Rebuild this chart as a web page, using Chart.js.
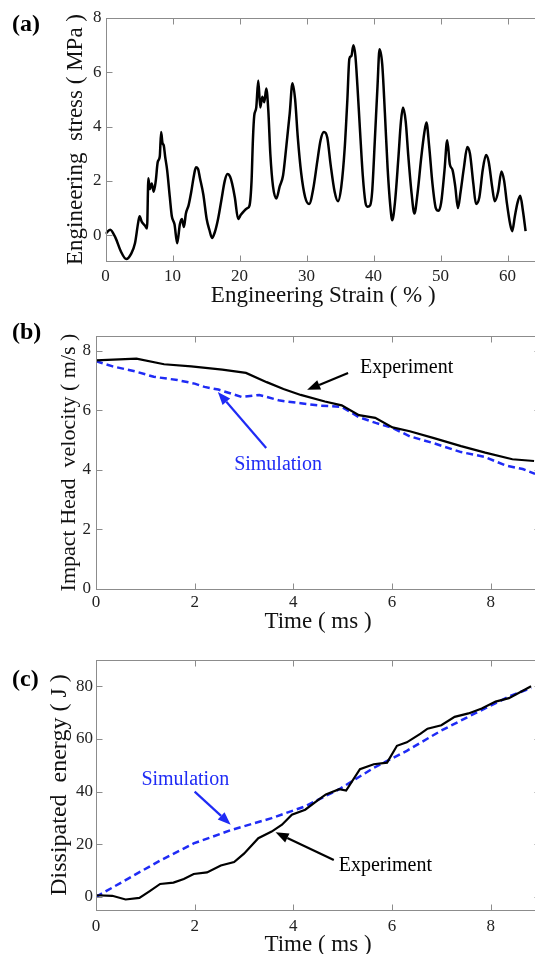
<!DOCTYPE html>
<html>
<head>
<meta charset="utf-8">
<script src="https://cdn.jsdelivr.net/npm/chart.js@4"></script>
<style>
  html, body { margin:0; padding:0; background:#fff; width:535px; height:954px; overflow:hidden; position:relative; }
  canvas { position:absolute; left:0; }
</style>
</head>
<body>
<canvas id="ca" width="560" height="310" style="top:0px"></canvas>
<canvas id="cb" width="560" height="330" style="top:320px"></canvas>
<canvas id="cc" width="560" height="320" style="top:640px"></canvas>
<script>
// ---------- Panel (a): engineering stress vs strain ----------
const strainA = [0,0.7,1.5,2.3,3.1,3.8,4.4,4.9,5.1,5.4,5.9,6.2,6.4,6.6,6.9,7.2,7.5,7.8,8.1,8.3,8.5,8.7,8.9,9.2,9.6,9.9,10.3,10.7,11.1,11.4,11.7,12.0,12.4,12.8,13.2,13.5,13.8,14.1,14.6,15.1,15.5,15.9,16.3,16.8,17.3,17.8,18.2,18.6,18.9,19.3,19.8,20.2,20.7,21.2,21.5,21.8,22.0,22.2,22.5,22.8,23.1,23.4,23.7,24.0,24.3,24.6,25.0,25.5,26.0,26.5,27.0,27.5,27.9,28.3,28.7,29.2,29.8,30.4,31.0,31.6,32.1,32.6,33.1,33.6,34.2,34.7,35.2,35.7,36.1,36.4,36.7,37.0,37.3,37.6,38.0,38.4,38.8,39.1,39.5,39.8,40.2,40.6,40.9,41.3,41.7,42.1,42.5,42.8,43.2,43.7,44.1,44.4,44.8,45.2,45.7,46.1,46.6,47.1,47.6,47.9,48.3,48.8,49.3,49.7,50.1,50.6,51.0,51.4,51.8,52.2,52.6,53.0,53.5,54.0,54.4,54.9,55.3,55.8,56.3,56.8,57.2,57.7,58.1,58.6,59.1,59.5,59.9,60.4,60.7,61.1,61.5,61.9,62.3,62.7];
const stressA = [0.05,0.2,-0.1,-0.6,-0.88,-0.7,-0.3,0.5,0.7,0.5,0.35,0.25,2.1,1.7,1.9,1.6,2.0,2.7,2.9,3.8,3.4,3.3,2.9,2.4,1.4,0.7,0.4,-0.3,0.4,0.6,0.3,0.8,1.1,1.6,2.2,2.5,2.45,2.1,1.5,0.6,0.2,-0.1,0.1,0.6,1.3,2.0,2.25,2.15,1.9,1.4,0.6,0.75,0.9,1.0,1.1,2.0,3.5,4.4,4.7,5.7,4.7,5.1,4.9,5.4,4.6,3.0,1.8,1.35,1.8,2.2,3.3,4.5,5.6,5.0,3.6,2.3,1.4,1.15,1.7,2.7,3.5,3.8,3.6,2.6,1.6,1.25,1.8,3.2,5.0,6.5,6.6,7.0,6.6,5.5,3.8,2.2,1.2,1.05,1.1,1.6,3.5,5.5,6.85,6.3,4.5,2.5,1.1,0.55,1.2,2.8,4.2,4.7,4.2,2.9,1.5,0.8,1.6,2.8,3.8,4.15,3.3,1.9,1.0,0.9,1.2,2.4,3.5,2.6,2.4,1.8,1.0,1.6,2.5,3.25,3.0,1.9,1.15,1.4,2.4,2.95,2.7,1.8,1.25,1.6,2.35,2.0,1.2,0.4,0.15,0.7,1.2,1.45,0.9,0.15];
const xTicksA = [0,10,20,30,40,50,60];
const yTicksA = [0,2,4,6,8];

// ---------- Panel (b): impact head velocity vs time ----------
const timeBExp = [0,0.82,1.38,1.93,2.56,3.04,3.46,3.8,4.15,4.64,4.98,5.33,5.66,6.01,6.36,6.85,7.4,7.89,8.44,8.88];
const velBExp  = [7.68,7.74,7.55,7.48,7.37,7.26,6.95,6.72,6.52,6.3,6.17,5.84,5.75,5.43,5.3,5.07,4.8,4.58,4.36,4.3];
const timeBSim = [0,0.34,0.82,1.17,1.65,2.0,2.2,2.48,2.96,3.31,3.73,4.15,4.56,4.98,5.32,5.67,6.01,6.36,6.84,7.4,7.88,8.3,8.65,8.9];
const velBSim  = [7.65,7.48,7.3,7.13,7.02,6.9,6.79,6.7,6.45,6.52,6.33,6.24,6.16,6.12,5.78,5.58,5.41,5.13,4.9,4.6,4.44,4.15,4.03,3.87];
const xTicksB = [0,2,4,6,8];
const yTicksB = [0,2,4,6,8];

// ---------- Panel (c): dissipated energy vs time ----------
const timeCExp = [0,0.33,0.6,0.88,1.09,1.3,1.57,1.78,1.98,2.25,2.53,2.8,3.0,3.29,3.56,3.77,3.97,4.24,4.52,4.66,4.93,5.07,5.35,5.63,5.9,6.1,6.3,6.58,6.72,7.0,7.27,7.55,7.82,8.1,8.37,8.82];
const energyCExp = [0.6,0.4,-1,-0.4,2.2,4.9,5.4,6.8,8.7,9.3,11.9,13.2,16.4,22.3,24.8,27.4,31.2,33.1,37,38.9,40.9,40.4,48.5,50.4,51,57.4,58.7,62,63.9,65.2,68.4,69.7,71.6,74.2,75.5,80];
const timeCSim = [0,1.3,1.98,2.74,3.56,4.24,4.93,5.63,6.3,7.0,7.68,8.37,8.82];
const energyCSim = [0,13.8,20.3,25.4,29.9,34.4,40.9,49,55.5,63.2,69.7,76.1,79.4];
const xTicksC = [0,2,4,6,8];
const yTicksC = [0,20,40,60,80];

// ---------- styling ----------
const SERIF = "'Liberation Serif', 'Times New Roman', serif";
const BLUE = '#1f2bf5';
const AXIS = '#8c8c8c';

function pts(xs, ys) { return xs.map((v, i) => ({x: v, y: ys[i]})); }

const framePlugin = {
  id: 'frame',
  afterDraw(chart, args, opts) {
    const {ctx, chartArea: a, scales: {x, y}} = chart;
    ctx.save();
    ctx.strokeStyle = AXIS; ctx.lineWidth = 1;
    const L = 6;
    const line = (x1, y1, x2, y2) => { ctx.beginPath(); ctx.moveTo(x1, y1); ctx.lineTo(x2, y2); ctx.stroke(); };
    const l = Math.round(a.left) + 0.5, r = Math.round(a.right) + 0.5, t = Math.round(a.top) + 0.5, b = Math.round(a.bottom) + 0.5;
    ctx.strokeRect(l, t, r - l, b - t);
    x.ticks.forEach(tk => { const p = Math.round(x.getPixelForValue(tk.value)) + 0.5; line(p, b, p, b - L); line(p, t, p, t + L); });
    y.ticks.forEach(tk => { const p = Math.round(y.getPixelForValue(tk.value)) + 0.5; line(l, p, l + L, p); line(r, p, r - L, p); });
    if (opts.letter) {
      ctx.fillStyle = '#000';
      ctx.font = "bold 24px " + SERIF;
      ctx.textBaseline = 'middle'; ctx.textAlign = 'left';
      ctx.fillText(opts.letter, opts.letterX, opts.letterY);
    }
    (opts.notes || []).forEach(n => {
      ctx.fillStyle = n.color; ctx.font = "20px " + SERIF;
      ctx.textBaseline = 'middle'; ctx.textAlign = 'left';
      ctx.fillText(n.text, x.getPixelForValue(n.x), y.getPixelForValue(n.y));
    });
    (opts.arrows || []).forEach(ar => {
      const x1 = x.getPixelForValue(ar.from[0]), y1 = y.getPixelForValue(ar.from[1]);
      const x2 = x.getPixelForValue(ar.to[0]), y2 = y.getPixelForValue(ar.to[1]);
      const ang = Math.atan2(y2 - y1, x2 - x1), H = 13, W = 5;
      ctx.strokeStyle = ar.color; ctx.fillStyle = ar.color; ctx.lineWidth = 2.2;
      const bx = x2 - H * Math.cos(ang), by = y2 - H * Math.sin(ang);
      ctx.beginPath(); ctx.moveTo(x1, y1); ctx.lineTo(bx, by); ctx.stroke();
      ctx.beginPath(); ctx.moveTo(x2, y2);
      ctx.lineTo(bx + W * Math.sin(ang), by - W * Math.cos(ang));
      ctx.lineTo(bx - W * Math.sin(ang), by + W * Math.cos(ang));
      ctx.closePath(); ctx.fill();
    });
    ctx.restore();
  }
};

function makeChart(id, c) {
  return new Chart(document.getElementById(id), {
    type: 'line',
    data: { datasets: c.datasets },
    options: {
      responsive: false, animation: false, devicePixelRatio: 1,
      layout: { padding: { left: 0, right: c.padRight, top: c.padTop, bottom: 0 } },
      elements: { point: { radius: 0 }, line: { tension: 0 } },
      plugins: { legend: { display: false }, tooltip: { enabled: false }, frame: c.frame },
      scales: {
        x: {
          type: 'linear', min: c.xMin, max: c.xMax,
          afterBuildTicks: s => { s.ticks = c.xTicks.map(v => ({value: v})); },
          afterFit: s => { s.height = c.xH; },
          grid: { display: false, drawTicks: false }, border: { display: false },
          ticks: { font: { family: SERIF, size: 17 }, color: '#222', padding: c.xTickPad, maxRotation: 0, autoSkip: false },
          title: { display: true, text: c.xTitle, font: { family: SERIF, size: 23 }, color: '#111', padding: { top: 0, bottom: c.xTitlePad } }
        },
        y: {
          type: 'linear', min: c.yMin, max: c.yMax,
          afterBuildTicks: s => { s.ticks = c.yTicks.map(v => ({value: v})); },
          afterFit: s => { s.width = c.yW; },
          grid: { display: false, drawTicks: false }, border: { display: false },
          ticks: { font: { family: SERIF, size: 17 }, color: '#222', padding: c.yTickPad, autoSkip: false },
          title: { display: true, text: c.yTitle, font: { family: SERIF, size: c.yTitleSize }, color: '#111', padding: { top: c.yTitlePad, bottom: 0 } }
        }
      }
    },
    plugins: [framePlugin]
  });
}

makeChart('ca', {
  datasets: [{ data: pts(strainA, stressA), borderColor: '#000', borderWidth: 2.5, cubicInterpolationMode: 'monotone' }],
  xMin: 0, xMax: 65, yMin: -0.95, yMax: 8, xTicks: xTicksA, yTicks: yTicksA,
  padRight: 19, padTop: 18, xH: 49, yW: 105.5, xTickPad: 5, xTitlePad: 0, yTickPad: 4, yTitlePad: 62, yTitleSize: 23,
  xTitle: 'Engineering Strain ( % )', yTitle: 'Engineering  stress ( MPa )',
  frame: { letter: '(a)', letterX: 12, letterY: 25 }
});

makeChart('cb', {
  datasets: [
    { data: pts(timeBExp, velBExp), borderColor: '#000', borderWidth: 2.2 },
    { data: pts(timeBSim, velBSim), borderColor: BLUE, borderWidth: 2.5, borderDash: [7, 4] }
  ],
  xMin: 0, xMax: 9, yMin: 0, yMax: 8.5, xTicks: xTicksB, yTicks: yTicksB,
  padRight: 20, padTop: 16, xH: 61, yW: 96, xTickPad: 3, xTitlePad: 14, yTickPad: 5, yTitlePad: 56, yTitleSize: 22,
  xTitle: 'Time ( ms )', yTitle: 'Impact Head  velocity ( m/s )',
  frame: {
    letter: '(b)', letterX: 12, letterY: 13,
    notes: [ { text: 'Experiment', x: 5.35, y: 7.43, color: '#000' }, { text: 'Simulation', x: 2.8, y: 4.17, color: BLUE } ],
    arrows: [ { from: [5.11, 7.26], to: [4.28, 6.69], color: '#000' }, { from: [3.45, 4.74], to: [2.47, 6.62], color: BLUE } ]
  }
});

makeChart('cc', {
  datasets: [
    { data: pts(timeCExp, energyCExp), borderColor: '#000', borderWidth: 2.2 },
    { data: pts(timeCSim, energyCSim), borderColor: BLUE, borderWidth: 2.5, borderDash: [7, 4] }
  ],
  xMin: 0, xMax: 9, yMin: -5, yMax: 90, xTicks: xTicksC, yTicks: yTicksC,
  padRight: 20, padTop: 20, xH: 50, yW: 96, xTickPad: 6, xTitlePad: 1, yTickPad: 3, yTitlePad: 45, yTitleSize: 24,
  xTitle: 'Time ( ms )', yTitle: 'Dissipated  energy ( J )',
  frame: {
    letter: '(c)', letterX: 12, letterY: 40,
    notes: [ { text: 'Simulation', x: 0.92, y: 44.5, color: BLUE }, { text: 'Experiment', x: 4.92, y: 11.7, color: '#000' } ],
    arrows: [ { from: [2.0, 40], to: [2.73, 27.4], color: BLUE }, { from: [4.82, 14], to: [3.64, 24.5], color: '#000' } ]
  }
});
</script>
</body>
</html>
